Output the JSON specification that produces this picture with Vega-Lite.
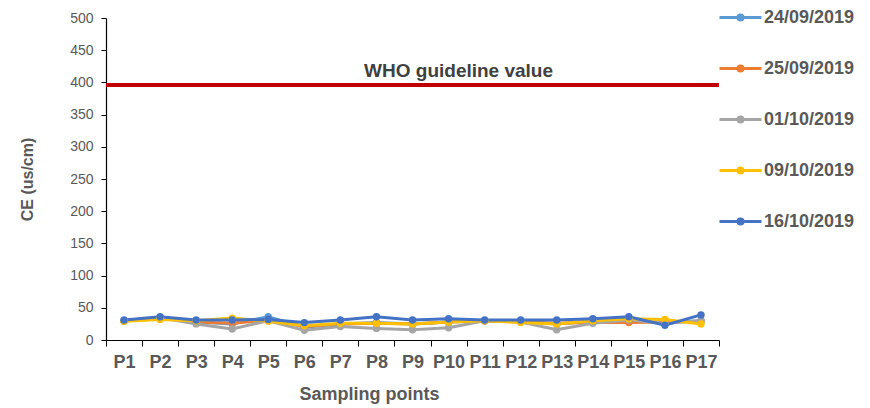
{
  "$schema": "https://vega.github.io/schema/vega-lite/v6.json",
  "autosize": {"type": "none"},
  "width": 613,
  "height": 322,
  "padding": {"left": 106, "top": 18, "right": 151, "bottom": 68},
  "background": "white",
  "config": {"view": {"stroke": null}, "font": "Liberation Sans"},
  "datasets": {
    "ce": [
    {"point":"P1","date":"24/09/2019","ce":30},{"point":"P2","date":"24/09/2019","ce":35},{"point":"P3","date":"24/09/2019","ce":28},{"point":"P4","date":"24/09/2019","ce":25},{"point":"P5","date":"24/09/2019","ce":36},{"point":"P6","date":"24/09/2019","ce":20},{"point":"P7","date":"24/09/2019","ce":25},{"point":"P8","date":"24/09/2019","ce":27},{"point":"P9","date":"24/09/2019","ce":25},{"point":"P10","date":"24/09/2019","ce":28},{"point":"P11","date":"24/09/2019","ce":30},{"point":"P12","date":"24/09/2019","ce":29},{"point":"P13","date":"24/09/2019","ce":25},{"point":"P14","date":"24/09/2019","ce":29},{"point":"P15","date":"24/09/2019","ce":32},{"point":"P16","date":"24/09/2019","ce":27},{"point":"P17","date":"24/09/2019","ce":30},
    {"point":"P1","date":"25/09/2019","ce":30},{"point":"P2","date":"25/09/2019","ce":34},{"point":"P3","date":"25/09/2019","ce":28},{"point":"P4","date":"25/09/2019","ce":26},{"point":"P5","date":"25/09/2019","ce":31},{"point":"P6","date":"25/09/2019","ce":21},{"point":"P7","date":"25/09/2019","ce":25},{"point":"P8","date":"25/09/2019","ce":26},{"point":"P9","date":"25/09/2019","ce":25},{"point":"P10","date":"25/09/2019","ce":28},{"point":"P11","date":"25/09/2019","ce":30},{"point":"P12","date":"25/09/2019","ce":28},{"point":"P13","date":"25/09/2019","ce":26},{"point":"P14","date":"25/09/2019","ce":27},{"point":"P15","date":"25/09/2019","ce":27},{"point":"P16","date":"25/09/2019","ce":28},{"point":"P17","date":"25/09/2019","ce":29},
    {"point":"P1","date":"01/10/2019","ce":29},{"point":"P2","date":"01/10/2019","ce":35},{"point":"P3","date":"01/10/2019","ce":25},{"point":"P4","date":"01/10/2019","ce":17},{"point":"P5","date":"01/10/2019","ce":30},{"point":"P6","date":"01/10/2019","ce":15},{"point":"P7","date":"01/10/2019","ce":21},{"point":"P8","date":"01/10/2019","ce":18},{"point":"P9","date":"01/10/2019","ce":16},{"point":"P10","date":"01/10/2019","ce":19},{"point":"P11","date":"01/10/2019","ce":30},{"point":"P12","date":"01/10/2019","ce":28},{"point":"P13","date":"01/10/2019","ce":16},{"point":"P14","date":"01/10/2019","ce":26},{"point":"P15","date":"01/10/2019","ce":31},{"point":"P16","date":"01/10/2019","ce":26},{"point":"P17","date":"01/10/2019","ce":30},
    {"point":"P1","date":"09/10/2019","ce":29},{"point":"P2","date":"09/10/2019","ce":32},{"point":"P3","date":"09/10/2019","ce":30},{"point":"P4","date":"09/10/2019","ce":34},{"point":"P5","date":"09/10/2019","ce":29},{"point":"P6","date":"09/10/2019","ce":22},{"point":"P7","date":"09/10/2019","ce":26},{"point":"P8","date":"09/10/2019","ce":26},{"point":"P9","date":"09/10/2019","ce":25},{"point":"P10","date":"09/10/2019","ce":28},{"point":"P11","date":"09/10/2019","ce":30},{"point":"P12","date":"09/10/2019","ce":27},{"point":"P13","date":"09/10/2019","ce":25},{"point":"P14","date":"09/10/2019","ce":30},{"point":"P15","date":"09/10/2019","ce":33},{"point":"P16","date":"09/10/2019","ce":32},{"point":"P17","date":"09/10/2019","ce":25},
    {"point":"P1","date":"16/10/2019","ce":31},{"point":"P2","date":"16/10/2019","ce":36},{"point":"P3","date":"16/10/2019","ce":31},{"point":"P4","date":"16/10/2019","ce":31},{"point":"P5","date":"16/10/2019","ce":32},{"point":"P6","date":"16/10/2019","ce":27},{"point":"P7","date":"16/10/2019","ce":31},{"point":"P8","date":"16/10/2019","ce":36},{"point":"P9","date":"16/10/2019","ce":31},{"point":"P10","date":"16/10/2019","ce":33},{"point":"P11","date":"16/10/2019","ce":31},{"point":"P12","date":"16/10/2019","ce":31},{"point":"P13","date":"16/10/2019","ce":31},{"point":"P14","date":"16/10/2019","ce":33},{"point":"P15","date":"16/10/2019","ce":36},{"point":"P16","date":"16/10/2019","ce":23},{"point":"P17","date":"16/10/2019","ce":39}
    ],
    "guide": [{"label": "WHO guideline value", "value": 396, "at": "P10"}]
  },
  "data": {"name": "ce"},
  "encoding": {
    "x": {
      "field": "point", "type": "nominal", "sort": null,
      "scale": {"type": "band", "paddingInner": 0, "paddingOuter": 0,
        "domain": ["P1","P2","P3","P4","P5","P6","P7","P8","P9","P10","P11","P12","P13","P14","P15","P16","P17"]},
      "axis": {
        "title": "Sampling points", "titleFontSize": 18, "titleFontWeight": "bold", "titleColor": "#595959",
        "titleX": 263, "titleAlign": "center", "titlePadding": 14,
        "labelAngle": 0, "labelFontSize": 18, "labelFontWeight": "bold", "labelColor": "#595959", "labelPadding": 7,
        "labelOverlap": false,
        "tickBand": "extent", "tickColor": "#000000", "tickSize": 6, "domainColor": "#000000", "domainWidth": 1.2,
        "grid": false
      }
    },
    "y": {
      "field": "ce", "type": "quantitative",
      "scale": {"domain": [0, 500], "nice": false},
      "axis": {
        "title": "CE (us/cm)", "titleFontSize": 16, "titleFontWeight": "bold", "titleColor": "#595959", "titlePadding": 34,
        "values": [0, 50, 100, 150, 200, 250, 300, 350, 400, 450, 500], "labelOverlap": false,
        "labelFontSize": 14, "labelColor": "#595959", "labelPadding": 8,
        "tickColor": "#000000", "tickSize": 5, "domainColor": "#000000", "domainWidth": 1.2, "grid": false
      }
    }
  },
  "layer": [
    {
      "data": {"name": "guide"},
      "mark": {"type": "rule", "color": "#C00000", "strokeWidth": 4},
      "encoding": {"y": {"field": "value", "type": "quantitative"}, "x": null}
    },
    {
      "data": {"name": "guide"},
      "mark": {"type": "text", "fontSize": 19, "fontWeight": "bold", "color": "#404040", "baseline": "alphabetic", "dy": -8, "dx": 10},
      "encoding": {
        "x": {"field": "at", "type": "nominal", "bandPosition": 0.5},
        "y": {"field": "value", "type": "quantitative"},
        "text": {"field": "label"}
      }
    },
    {
      "mark": {"type": "line", "strokeWidth": 3, "point": {"filled": true, "size": 55}},
      "encoding": {
        "x": {"field": "point", "type": "nominal", "sort": null, "bandPosition": 0.5},
        "color": {
          "field": "date", "type": "nominal",
          "scale": {
            "domain": ["24/09/2019", "25/09/2019", "01/10/2019", "09/10/2019", "16/10/2019"],
            "range": ["#5B9BD5", "#ED7D31", "#A5A5A5", "#FFC000", "#4472C4"]
          },
          "legend": {
            "title": null, "orient": "none", "legendX": 612, "legendY": -23, "padding": 0,
            "symbolType": "M-1,0H1M-0.12,0A0.12,0.12,0,1,1,0.12,0A0.12,0.12,0,1,1,-0.12,0",
            "symbolSize": 1764, "symbolStrokeWidth": 3,
            "labelFontSize": 18, "labelFontWeight": "bold", "labelColor": "#595959", "labelOffset": 1,
            "labelLimit": 200, "rowPadding": 19
          }
        }
      }
    }
  ]
}
